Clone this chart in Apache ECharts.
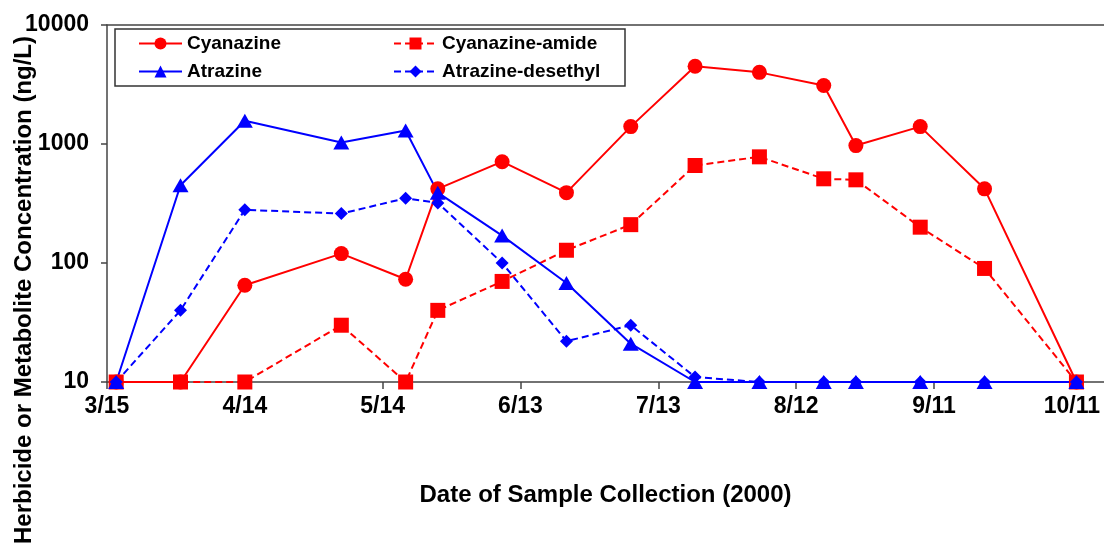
<!DOCTYPE html>
<html>
<head>
<meta charset="utf-8">
<title>Herbicide and metabolite concentrations, 2000</title>
<script src="https://cdn.jsdelivr.net/npm/echarts@6/dist/echarts.min.js"></script>
<style>
  html, body { margin: 0; padding: 0; background: #fff; }
  #chart { width: 1104px; height: 543px; }
</style>
</head>
<body>
<div id="chart"></div>
<script>
// sample collection dates in 2000 (M/D)
var sampleDates = ["3/17", "3/31", "4/14", "5/5", "5/19", "5/26", "6/9", "6/23",
  "7/7", "7/21", "8/4", "8/18", "8/25", "9/8", "9/22", "10/12"];

// concentrations, ng/L
var cyanazine = [10, 10, 65, 120, 73, 420, 710, 390, 1400, 4500, 4000, 3100, 970, 1400, 420, 10];
var cyanazineAmide = [10, 10, 10, 30, 10, 40, 70, 128, 210, 660, 780, 510, 500, 200, 90, 10];
var atrazine = [10, 450, 1570, 1030, 1300, 390, 170, 68, 21, 10, 10, 10, 10, 10, 10, 10];
var atrazineDesethyl = [10, 40, 280, 260, 350, 320, 100, 22, 30, 11, 10, 10, 10, 10, 10, 10];

var seriesNames = ["Cyanazine", "Cyanazine-amide", "Atrazine", "Atrazine-desethyl"];

var DAY = 86400000;
var origin = Date.UTC(2000, 2, 15); // 3/15, first tick

function dayOf(md) {
  var p = md.split("/");
  return Math.round((Date.UTC(2000, +p[0] - 1, +p[1]) - origin) / DAY);
}
function labelOf(day) {
  var d = new Date(origin + day * DAY);
  return d.getUTCMonth() + 1 + "/" + d.getUTCDate();
}
function pairs(vals) {
  return sampleDates.map(function (d, i) { return [dayOf(d), vals[i]]; });
}

var font = "'Liberation Sans', Arial, sans-serif";
var red = "#ff0000";
var blue = "#0000ff";

var chart = echarts.init(document.getElementById("chart"));

function lineSeries(name, vals, color, symbol, size, dashed) {
  return {
    name: name,
    type: "line",
    data: pairs(vals),
    symbol: symbol,
    symbolSize: size,
    showAllSymbol: true,
    lineStyle: { color: color, width: 2, type: dashed ? [7, 4] : "solid" },
    itemStyle: { color: color },
    emphasis: { disabled: true }
  };
}

var legendText = { fontFamily: font, fontSize: 19, fontWeight: "bold", color: "#000" };

chart.setOption({
  animation: false,
  grid: {
    left: 107,
    right: 0,
    top: 25,
    bottom: 161,
    containLabel: false,
    outerBoundsMode: "none"
  },
  legend: [
    {
      data: ["Cyanazine", "Atrazine"],
      orient: "vertical",
      left: 138,
      top: 34,
      padding: 0,
      itemWidth: 43,
      itemHeight: 15,
      itemGap: 9,
      textStyle: legendText,
      selectedMode: false
    },
    {
      data: ["Cyanazine-amide", "Atrazine-desethyl"],
      orient: "vertical",
      left: 393,
      top: 34,
      padding: 0,
      itemWidth: 43,
      itemHeight: 15,
      itemGap: 9,
      textStyle: legendText,
      selectedMode: false
    }
  ],
  graphic: [
    {
      type: "rect",
      z: 3,
      shape: { x: 115, y: 29, width: 510, height: 57 },
      style: { fill: "#fff", stroke: "#333", lineWidth: 1.5 }
    },
    {
      type: "text",
      x: 24,
      y: 290,
      rotation: Math.PI / 2,
      style: {
        text: "Herbicide or Metabolite Concentration (ng/L)",
        font: "bold 24px " + font,
        fill: "#000",
        textAlign: "center",
        textVerticalAlign: "middle"
      }
    }
  ],
  xAxis: [
    {
      type: "value",
      min: 0,
      max: 217,
      interval: 30,
      name: "Date of Sample Collection (2000)",
      nameLocation: "middle",
      nameGap: 101,
      nameTextStyle: { fontFamily: font, fontSize: 24, fontWeight: "bold", color: "#000" },
      axisLine: { lineStyle: { color: "#444", width: 1.5 } },
      axisTick: { show: true, length: 7, lineStyle: { color: "#444", width: 1.5 } },
      axisLabel: {
        margin: 13,
        showMaxLabel: false,
        fontFamily: font,
        fontSize: 23,
        fontWeight: "bold",
        color: "#000",
        formatter: function (v) { return v % 30 === 0 ? labelOf(v) : ""; }
      },
      splitLine: { show: false }
    },
    {
      type: "value",
      position: "top",
      min: 0,
      max: 217,
      axisLine: { show: true, lineStyle: { color: "#444", width: 1.5 } },
      axisTick: { show: false },
      axisLabel: { show: false },
      splitLine: { show: false }
    }
  ],
  yAxis: {
    type: "log",
    logBase: 10,
    min: 10,
    max: 10000,
    axisLine: { show: true, lineStyle: { color: "#444", width: 1.5 } },
    axisTick: { show: true, length: 6, lineStyle: { color: "#444", width: 1.5 } },
    minorTick: { show: false },
    axisLabel: {
      margin: 18,
      fontFamily: font,
      fontSize: 23,
      fontWeight: "bold",
      color: "#000",
      formatter: function (v) { return String(Math.round(v)); }
    },
    splitLine: { show: false }
  },
  series: [
    lineSeries(seriesNames[0], cyanazine, red, "circle", 15, false),
    lineSeries(seriesNames[1], cyanazineAmide, red, "rect", 15, true),
    lineSeries(seriesNames[2], atrazine, blue, "triangle", [16, 14], false),
    lineSeries(seriesNames[3], atrazineDesethyl, blue, "diamond", 13, true)
  ]
});
</script>
</body>
</html>
